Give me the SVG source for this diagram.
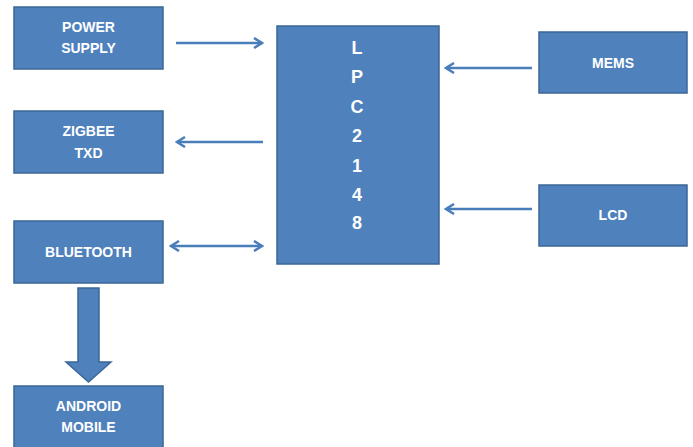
<svg xmlns="http://www.w3.org/2000/svg" width="693" height="447" viewBox="0 0 693 447">
<defs>
<style>
.box{fill:#4F81BD;stroke:#3B6697;stroke-width:1.5}
.t{font-family:"Liberation Sans",Arial,sans-serif;font-weight:bold;font-size:14px;fill:#fff;text-anchor:middle}
.big{font-size:18px}
.ln{stroke:#4A7EBB;stroke-width:2.5;fill:none}
</style>
<marker id="ah" viewBox="0 0 12 12" refX="10" refY="6" markerWidth="12" markerHeight="12" markerUnits="userSpaceOnUse" orient="auto-start-reverse">
<path d="M2,1 L10,6 L2,11" fill="none" stroke="#4A7EBB" stroke-width="2.5"/>
</marker>
</defs>
<rect width="693" height="447" fill="#fff"/>
<g id="power"><rect class="box" x="14" y="7" width="149" height="62"/><text class="t" x="88.5" y="32">POWER</text><text class="t" x="88.5" y="53">SUPPLY</text></g>
<g id="zigbee"><rect class="box" x="14" y="111" width="149" height="62"/><text class="t" x="88.5" y="136">ZIGBEE</text><text class="t" x="88.5" y="158">TXD</text></g>
<g id="bluetooth"><rect class="box" x="14" y="221" width="149" height="62"/><text class="t" x="88.5" y="257">BLUETOOTH</text></g>
<g id="android"><rect class="box" x="14" y="386" width="149" height="65"/><text class="t" x="88.5" y="411">ANDROID</text><text class="t" x="88.5" y="432">MOBILE</text></g>
<g id="lpc"><rect class="box" x="277" y="26" width="162" height="238"/>
<text class="t big" x="357" y="54">L</text><text class="t big" x="357" y="83">P</text><text class="t big" x="357" y="113">C</text><text class="t big" x="357" y="142">2</text><text class="t big" x="357" y="172">1</text><text class="t big" x="357" y="201">4</text><text class="t big" x="357" y="229">8</text></g>
<g id="mems"><rect class="box" x="539" y="32" width="148" height="61"/><text class="t" x="613" y="68">MEMS</text></g>
<g id="lcd"><rect class="box" x="539" y="185" width="148" height="61"/><text class="t" x="613" y="220">LCD</text></g>
<g id="connectors">
<line class="ln" x1="176" y1="43" x2="262" y2="43" marker-end="url(#ah)"/>
<line class="ln" x1="263" y1="142" x2="177" y2="142" marker-end="url(#ah)"/>
<line class="ln" x1="171" y1="246" x2="262" y2="246" marker-start="url(#ah)" marker-end="url(#ah)"/>
<line class="ln" x1="532" y1="68" x2="446" y2="68" marker-end="url(#ah)"/>
<line class="ln" x1="532" y1="209" x2="446" y2="209" marker-end="url(#ah)"/>
<path d="M78,288 L99,288 L99,362 L111,362 L88.5,382 L66,362 L78,362 Z" fill="#4F81BD" stroke="#3B6697" stroke-width="1.5"/>
</g>
</svg>
